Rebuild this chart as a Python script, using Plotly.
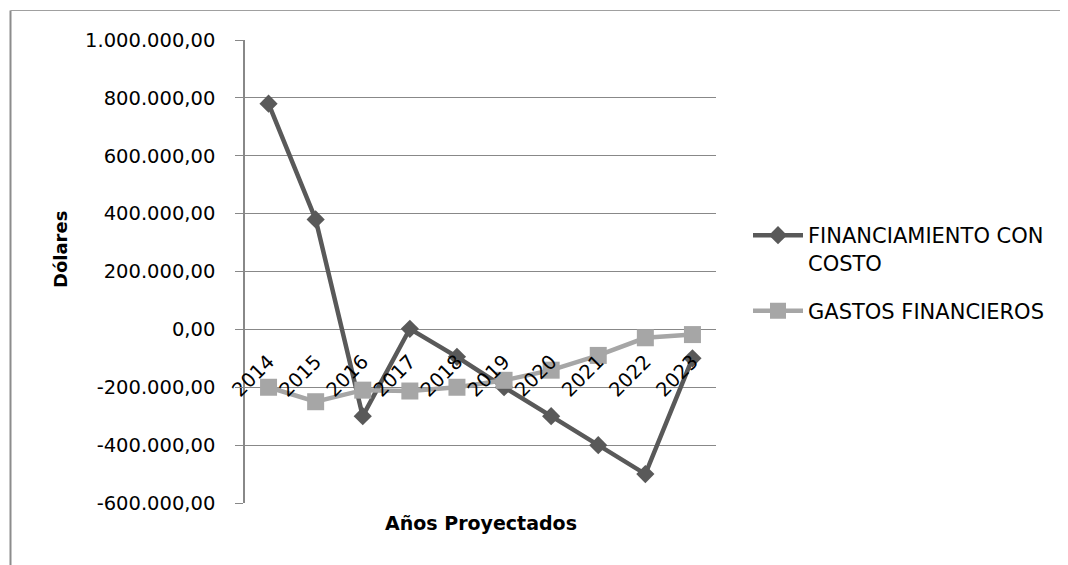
import plotly.graph_objects as go

years = ["2014", "2015", "2016", "2017", "2018", "2019", "2020", "2021", "2022", "2023"]
financiamiento = [780000, 380000, -300000, 2000, -95000, -200000, -300000, -400000, -500000, -100000]
gastos = [-200000, -250000, -210000, -213000, -200000, -176000, -141000, -90000, -29000, -18000]
y_ticks = [-600000, -400000, -200000, 0, 200000, 400000, 600000, 800000, 1000000]


def fmt_es(v):
    s = f"{v:,.2f}"  # e.g. -200,000.00
    return s.replace(",", "X").replace(".", ",").replace("X", ".")


y_tick_text = [fmt_es(v) for v in y_ticks]

FONT = "DejaVu Sans"
OFF = 8  # page body margin
W, H = 1068 - OFF, 565 - OFF
L, R, T, B = 245 - OFF, 352, 40 - OFF, 62
PW, PH = W - L - R, H - T - B


def px_x(px):
    return (px - OFF - L) / PW


def px_y(py):
    return (H - B - (py - OFF)) / PH


fig = go.Figure()
fig.add_trace(go.Scatter(
    x=years, y=financiamiento, name="FINANCIAMIENTO CON<br>COSTO",
    mode="lines+markers", legendgroup="a",
    line=dict(color="#595959", width=4.5),
    marker=dict(symbol="diamond", size=14, color="#595959"),
))
fig.add_trace(go.Scatter(
    x=years, y=gastos, name="GASTOS FINANCIEROS",
    mode="lines+markers", legendgroup="b",
    line=dict(color="#a6a6a6", width=4.5),
    marker=dict(symbol="square", size=17, color="#a6a6a6"),
))

fig.update_layout(
    width=W, height=H,
    margin=dict(l=L, r=R, t=T, b=B),
    paper_bgcolor="white", plot_bgcolor="white",
    separators=",.",
    font=dict(family=FONT, color="black", size=19),
    showlegend=True,
    legend=dict(
        x=px_x(748), xanchor="left", y=px_y(215), yanchor="top",
        font=dict(family=FONT, size=21, color="black"),
        valign="top", bgcolor="rgba(0,0,0,0)", tracegroupgap=18,
        itemwidth=50,
    ),
    xaxis=dict(
        type="category", range=[-0.5, 9.5],
        anchor="free", position=0.375,
        showline=False, showgrid=False, zeroline=False, ticks="",
        tickangle=-45, tickfont=dict(family=FONT, size=19.5, color="black"),
        ticklabelstandoff=16,
    ),
    yaxis=dict(
        range=[-600000, 1000000], tickvals=y_ticks, ticktext=y_tick_text,
        showgrid=True, gridcolor="#888888", gridwidth=1,
        zeroline=False, showline=True, linecolor="#888888", linewidth=1.5,
        ticks="outside", ticklen=8, tickcolor="#888888",
        tickfont=dict(family=FONT, size=19.5, color="black"),
        ticklabelstandoff=16,
    ),
    annotations=[
        dict(text="<b>Años Proyectados</b>", xref="paper", yref="paper",
             x=0.5, y=px_y(523), xanchor="center", yanchor="middle",
             showarrow=False, font=dict(family=FONT, size=19, color="black")),
        dict(text="<b>Dólares</b>", xref="paper", yref="paper",
             x=px_x(60), y=px_y(250), xanchor="center", yanchor="middle",
             textangle=-90, showarrow=False,
             font=dict(family=FONT, size=18, color="black")),
    ],
    shapes=[
        dict(type="line", xref="paper", yref="paper",
             x0=px_x(10.5), x1=px_x(10.5), y0=px_y(10.5), y1=px_y(570),
             line=dict(color="#8c8c8c", width=2)),
        dict(type="line", xref="paper", yref="paper",
             x0=px_x(10.5), x1=px_x(1075), y0=px_y(10.5), y1=px_y(10.5),
             line=dict(color="#a0a0a0", width=1.2)),
    ],
)

fig.write_html("out.html")
